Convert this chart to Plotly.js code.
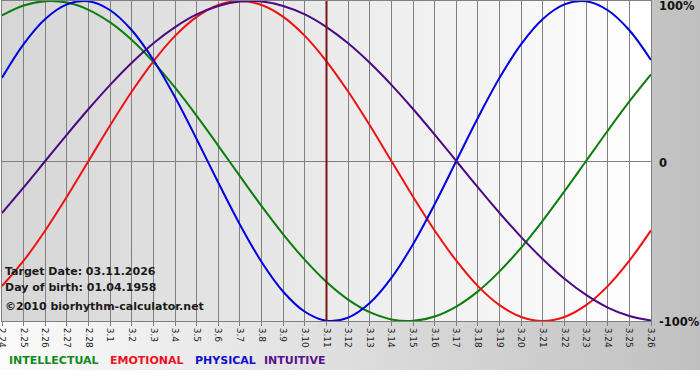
<!DOCTYPE html>
<html>
<head>
<meta charset="utf-8">
<script src="https://cdn.plot.ly/plotly-3.0.1.min.js"></script>
<style>
  html, body { margin: 0; padding: 0; background: #ffffff; }
  #chart {
    width: 700px; height: 380px;
    background:
      linear-gradient(to right, #d6d6d6, #ffffff) 2px 1px / 649px 320px no-repeat,
      linear-gradient(to right, #fbfbfb, #c0c0c0) 0 0 / 700px 370px no-repeat,
      #ffffff;
  }
</style>
</head>
<body>
<div id="chart"></div>
<script>
const dates = ['2.24','2.25','2.26','2.27','2.28','3.1','3.2','3.3','3.4','3.5','3.6','3.7','3.8','3.9','3.10',
               '3.11','3.12','3.13','3.14','3.15','3.16','3.17','3.18','3.19','3.20','3.21','3.22','3.23','3.24','3.25','3.26'];
const intellectual = [91.0, 97.2, 99.9, 99.0, 94.5, 86.6, 75.6, 61.8, 45.8, 28.2, 9.5, -9.5, -28.2, -45.8, -61.8,
                      -75.6, -86.6, -94.5, -99.0, -99.9, -97.2, -91.0, -81.5, -69.0, -54.1, -37.2, -18.9, 0, 18.9, 37.2, 54.1];
const emotional    = [-78.2, -62.3, -43.4, -22.3, 0, 22.3, 43.4, 62.3, 78.2, 90.1, 97.5, 100, 97.5, 90.1, 78.2,
                      62.3, 43.4, 22.3, 0, -22.3, -43.4, -62.3, -78.2, -90.1, -97.5, -100, -97.5, -90.1, -78.2, -62.3, -43.4];
const physical     = [52.0, 73.1, 88.8, 97.9, 99.8, 94.2, 81.7, 63.1, 39.8, 13.6, -13.6, -39.8, -63.1, -81.7, -94.2,
                      -99.8, -97.9, -88.8, -73.1, -52.0, -27.0, 0, 27.0, 52.0, 73.1, 88.8, 97.9, 99.8, 94.2, 81.7, 63.1];
const intuitive    = [-32.5, -16.5, 0, 16.5, 32.5, 47.6, 61.4, 73.6, 83.7, 91.6, 96.9, 99.7, 99.7, 96.9, 91.6,
                      83.7, 73.6, 61.4, 47.6, 32.5, 16.5, 0, -16.5, -32.5, -47.6, -61.4, -73.6, -83.7, -91.6, -96.9, -99.7];
const targetDate = '3.11';
const yTickVals = [100, 0, -100];
const yTickText = ['100%', '0', '-100%'];
const infoLines = ['Target Date: 03.11.2026', 'Day of birth: 01.04.1958', '\u00a92010 biorhythm-calculator.net'];
const legendNames = ['INTELLECTUAL', 'EMOTIONAL', 'PHYSICAL', 'INTUITIVE'];

const colors = { intellectual: '#0b7d0b', emotional: '#f01010', physical: '#0000e0', intuitive: '#4b0a82' };
const legendColors = ['#148a1e', '#ee1122', '#1010d0', '#5a108a'];

const series = [
  { name: 'INTELLECTUAL', y: intellectual, color: colors.intellectual },
  { name: 'EMOTIONAL', y: emotional, color: colors.emotional },
  { name: 'PHYSICAL', y: physical, color: colors.physical },
  { name: 'INTUITIVE', y: intuitive, color: colors.intuitive }
];

const traces = series.map(s => ({
  type: 'scatter', mode: 'lines', x: dates, y: s.y, name: s.name,
  line: { color: s.color, width: 2, shape: 'spline', smoothing: 1 },
  hoverinfo: 'skip'
}));

const targetIndex = dates.indexOf(targetDate);

const annotations = [];
const yShifts = [-5, -2, -1];
yTickVals.forEach((v, i) => annotations.push({
  xref: 'paper', yref: 'y', x: (657 - 2) / 649, y: v, xanchor: 'left', yanchor: 'middle',
  text: '<b>' + yTickText[i] + '</b>', showarrow: false, yshift: yShifts[i],
  font: { family: 'DejaVu Sans', size: 11.5, color: '#111' }
}));
const infoY = [271, 287, 306];
infoLines.forEach((t, i) => annotations.push({
  xref: 'paper', yref: 'paper', x: (3 - 2) / 649, y: (321 - infoY[i]) / 320,
  xanchor: 'left', yanchor: 'middle', text: '<b>' + t + '</b>', showarrow: false,
  font: { family: 'DejaVu Sans', size: 11, color: '#1a1a1a' }
}));
const legendX = [7, 108, 193, 262];
legendNames.forEach((t, i) => annotations.push({
  xref: 'paper', yref: 'paper', x: (legendX[i] - 2) / 649, y: (321 - 360) / 320,
  xanchor: 'left', yanchor: 'middle', text: '<b>' + t + '</b>', showarrow: false,
  font: { family: 'DejaVu Sans', size: 11, color: legendColors[i] }
}));

const layout = {
  width: 700, height: 380,
  margin: { l: 2, r: 49, t: 1, b: 59, pad: 0 },
  paper_bgcolor: 'rgba(0,0,0,0)',
  plot_bgcolor: 'rgba(0,0,0,0)',
  showlegend: false,
  xaxis: {
    type: 'category', range: [0, dates.length - 1],
    showgrid: true, gridcolor: '#808080', gridwidth: 1,
    showline: true, mirror: true, linecolor: '#808080', linewidth: 1,
    ticks: 'outside', ticklen: 4, tickcolor: '#808080',
    tickangle: 90, tickfont: { family: 'DejaVu Sans', size: 9, color: '#222' },
    zeroline: false, fixedrange: true
  },
  yaxis: {
    range: [-100, 100], showgrid: false, showticklabels: false,
    zeroline: true, zerolinecolor: '#808080', zerolinewidth: 1,
    showline: true, mirror: true, linecolor: '#808080', linewidth: 1,
    ticks: '', fixedrange: true
  },
  shapes: [{
    type: 'line', xref: 'x', yref: 'paper', x0: targetIndex, x1: targetIndex, y0: 0, y1: 1,
    line: { color: '#7a1515', width: 2 }, layer: 'above'
  }],
  annotations: annotations
};

Plotly.newPlot('chart', traces, layout, { displayModeBar: false, staticPlot: true });
</script>
</body>
</html>
